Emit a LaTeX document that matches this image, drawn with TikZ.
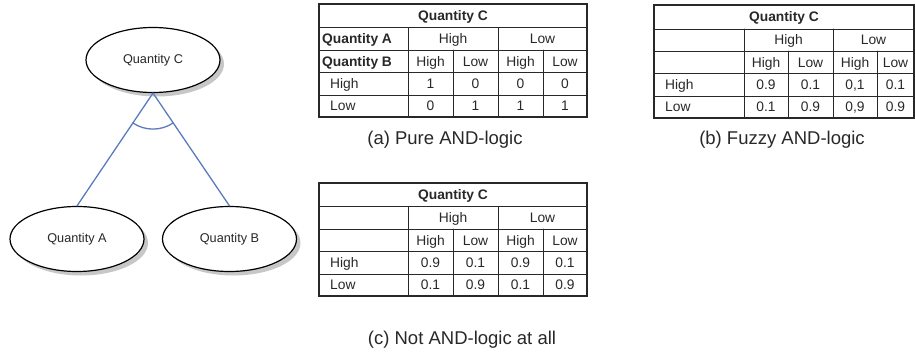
\documentclass[tikz,border=0pt]{standalone}
\usepackage{fontspec}
\setmainfont{Liberation Sans}
\usetikzlibrary{shapes.geometric,shadows,angles}
\definecolor{linkblue}{RGB}{88,124,190}
\definecolor{inkgray}{RGB}{40,40,40}

\begin{document}
\begin{tikzpicture}[x=1pt,y=1pt,line cap=round,
  qty/.style={ellipse,draw=black,line width=1.2pt,fill=white,minimum width=134pt,minimum height=65pt,inner sep=0pt,
    font=\fontsize{12.7}{14}\selectfont,text=inkgray,
    general shadow={shadow xshift=4pt,shadow yshift=-4pt,fill=black!22}},
  link/.style={draw=linkblue,line width=1.3pt},
  frame/.style={draw=inkgray,line width=1.2pt},
  rule/.style={draw=inkgray,line width=0.8pt},
  cell/.style={inner sep=0pt,text height=9.9pt,text depth=0pt,font=\fontsize{13.8}{16}\selectfont,text=inkgray},
  head/.style={cell,font=\fontsize{13.8}{16}\selectfont\bfseries},
  capt/.style={inner sep=0pt,text height=13.3pt,text depth=0pt,font=\fontsize{18.5}{20}\selectfont,text=inkgray}]
\useasboundingbox (0,0) rectangle (915,-353);
% the AND node
\node[qty] (qc) at (153,-60) {Quantity C};
\node[qty] (qa) at (77,-239) {Quantity A};
\node[qty] (qb) at (229.5,-239) {Quantity B};
\coordinate (apex) at (qc.south);
\coordinate (ca) at (qa.north);
\coordinate (cb) at (qb.north);
\draw[link] (apex) -- (ca);
\draw[link] (apex) -- (cb);
\pic[link,angle radius=36pt] {angle=ca--apex--cb};
% (a) pure AND
\begin{scope}[shift={(319,-4)}]
\draw[rule] (0,-23.5) -- (268,-23.5) (0,-46) -- (268,-46) (0,-68.5) -- (268,-68.5) (0,-91) -- (268,-91);
\draw[rule] (89,-23.5) -- (89,-113) (179,-23.5) -- (179,-113) (134,-46) -- (134,-113) (224,-46) -- (224,-113);
\draw[frame] (0,0) rectangle (268,-113);
\node[head] (tabA-c) at (134,-11.75) {Quantity C};
\node[head,anchor=west] (tabA-qa) at (3,-34.75) {Quantity A};
\node[head,anchor=west] (tabA-qb) at (3,-57.25) {Quantity B};
\node[cell] (tabA-hi) at (134,-34.75) {High};
\node[cell] (tabA-lo) at (223.5,-34.75) {Low};
\foreach \x/\v [count=\i] in {111.5/High,156.5/Low,201.5/High,246/Low}
  \node[cell] (tabA-b\i) at (\x,-57.25) {\v};
\node[cell,anchor=west] (tabA-rh) at (11,-79.75) {High};
\node[cell,anchor=west] (tabA-rl) at (11,-102) {Low};
\foreach \x/\v [count=\i] in {111.5/1,156.5/0,201.5/0,246/0}
  \node[cell] (tabA-h\i) at (\x,-79.75) {\v};
\foreach \x/\v [count=\i] in {111.5/0,156.5/1,201.5/1,246/1}
  \node[cell] (tabA-l\i) at (\x,-102) {\v};
\end{scope}
\node[capt] (capA) at (445,-137.5) {(a) Pure AND-logic};
% (b) fuzzy AND
\begin{scope}[shift={(654,-5)}]
\draw[rule] (0,-24) -- (260,-24) (0,-46) -- (260,-46) (0,-68.5) -- (260,-68.5) (0,-91) -- (260,-91);
\draw[rule] (90,-24) -- (90,-113) (179,-24) -- (179,-113) (134,-46) -- (134,-113) (223,-46) -- (223,-113);
\draw[frame] (0,0) rectangle (260,-113);
\node[head] (tabB-c) at (130,-12) {Quantity C};
\node[cell] (tabB-hi) at (134.5,-35) {High};
\node[cell] (tabB-lo) at (219.5,-35) {Low};
\foreach \x/\v [count=\i] in {112/High,156.5/Low,201/High,241.5/Low}
  \node[cell] (tabB-b\i) at (\x,-57.25) {\v};
\node[cell,anchor=west] (tabB-rh) at (11,-79.75) {High};
\node[cell,anchor=west] (tabB-rl) at (11,-102) {Low};
\foreach \x/\v [count=\i] in {112/0.9,156.5/0.1,201/{0,1},241.5/0.1}
  \node[cell] (tabB-h\i) at (\x,-79.75) {\v};
\foreach \x/\v [count=\i] in {112/0.1,156.5/0.9,201/{0,9},241.5/0.9}
  \node[cell] (tabB-l\i) at (\x,-102) {\v};
\end{scope}
\node[capt] (capB) at (782,-137.5) {(b) Fuzzy AND-logic};
% (c) not AND
\begin{scope}[shift={(319,-183)}]
\draw[rule] (0,-23.5) -- (268,-23.5) (0,-46) -- (268,-46) (0,-68.5) -- (268,-68.5) (0,-91) -- (268,-91);
\draw[rule] (89,-23.5) -- (89,-113) (179,-23.5) -- (179,-113) (134,-46) -- (134,-113) (224,-46) -- (224,-113);
\draw[frame] (0,0) rectangle (268,-113);
\node[head] (tabC-c) at (134,-11.75) {Quantity C};
\node[cell] (tabC-hi) at (134,-34.75) {High};
\node[cell] (tabC-lo) at (223.5,-34.75) {Low};
\foreach \x/\v [count=\i] in {111.5/High,156.5/Low,201.5/High,246/Low}
  \node[cell] (tabC-b\i) at (\x,-57.25) {\v};
\node[cell,anchor=west] (tabC-rh) at (11,-79.75) {High};
\node[cell,anchor=west] (tabC-rl) at (11,-102) {Low};
\foreach \x/\v [count=\i] in {111.5/0.9,156.5/0.1,201.5/0.9,246/0.1}
  \node[cell] (tabC-h\i) at (\x,-79.75) {\v};
\foreach \x/\v [count=\i] in {111.5/0.1,156.5/0.9,201.5/0.1,246/0.9}
  \node[cell] (tabC-l\i) at (\x,-102) {\v};
\end{scope}
\node[capt] (capC) at (462,-338) {(c) Not AND-logic at all};
\end{tikzpicture}
\end{document}
